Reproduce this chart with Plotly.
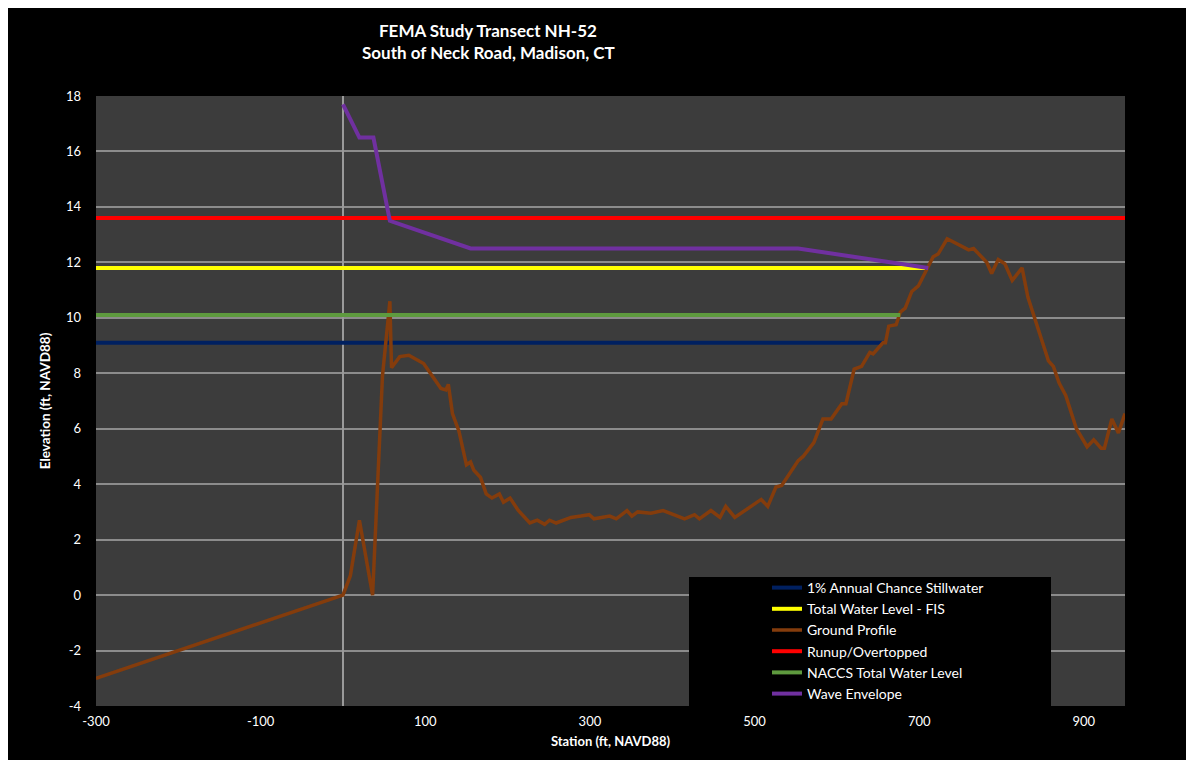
import plotly.graph_objects as go

# ---------------- data ----------------
ground_x = [-300, 0, 9, 20, 36, 48, 57, 59, 69, 80, 98, 119, 125, 128, 133, 141, 150, 155, 159, 167,
            174, 181, 190, 195, 203, 213, 227, 236, 245, 251, 259, 277, 289, 299, 305, 324, 332, 345,
            351, 358, 374, 389, 415, 427, 433, 447, 458, 465, 476, 508, 516, 526, 533, 553, 559, 572,
            583, 593, 606, 611, 621, 630, 640, 644, 656, 659, 663, 672, 677, 683, 691, 699, 711, 717,
            723, 734, 760, 766, 782, 788, 796, 804, 813, 825, 832, 841, 847, 857, 863, 870, 878, 891,
            904, 912, 921, 925, 934, 942, 950]
ground_y = [-3.0, 0.0, 0.7, 2.7, 0.0, 7.9, 10.6, 8.2, 8.6, 8.65, 8.35, 7.45, 7.4, 7.6, 6.55, 5.9, 4.7,
            4.8, 4.5, 4.25, 3.65, 3.5, 3.65, 3.35, 3.5, 3.05, 2.6, 2.7, 2.55, 2.7, 2.6, 2.8, 2.85, 2.9,
            2.75, 2.85, 2.75, 3.05, 2.85, 3.0, 2.95, 3.05, 2.75, 2.9, 2.75, 3.05, 2.8, 3.2, 2.8, 3.45,
            3.2, 3.9, 3.95, 4.85, 5.0, 5.5, 6.35, 6.35, 6.9, 6.9, 8.15, 8.25, 8.75, 8.7, 9.1, 9.1, 9.7,
            9.75, 10.2, 10.35, 10.95, 11.15, 11.85, 12.2, 12.3, 12.85, 12.45, 12.5, 12.0, 11.6, 12.1,
            11.95, 11.35, 11.8, 10.75, 9.9, 9.4, 8.45, 8.25, 7.65, 7.2, 6.0, 5.35, 5.6, 5.3, 5.3, 6.35,
            5.85, 6.55]

wave_x = [0, 20, 37, 57, 155, 553, 711]
wave_y = [17.7, 16.5, 16.5, 13.5, 12.5, 12.5, 11.8]

stillwater_x = [-300, 657]
stillwater_y = [9.1, 9.1]
fis_x = [-300, 709]
fis_y = [11.8, 11.8]
runup_x = [-300, 950]
runup_y = [13.6, 13.6]
naccs_x = [-300, 677]
naccs_y = [10.1, 10.1]

x_ticks = [-300, -100, 100, 300, 500, 700, 900]
x_tick_labels = ["-300", "-100", "100", "300", "500", "700", "900"]
y_ticks = [-4, -2, 0, 2, 4, 6, 8, 10, 12, 14, 16, 18]
y_tick_labels = ["-4", "-2", "0", "2", "4", "6", "8", "10", "12", "14", "16", "18"]

title_lines = ["FEMA Study Transect NH-52", "South of Neck Road, Madison, CT"]

FONT = "Lato, 'Open Sans', sans-serif"

# plot area in page pixels: left 96, right 1125, top 96, bottom 706
PW, PH = 1029.0, 610.0


def px_x(p):
    return (p - 96) / PW


def px_y(p):
    return (706 - p) / PH


fig = go.Figure()
fig.add_trace(go.Scatter(x=stillwater_x, y=stillwater_y, mode="lines",
                         name="1% Annual Chance Stillwater",
                         line=dict(color="#002060", width=4)))
fig.add_trace(go.Scatter(x=fis_x, y=fis_y, mode="lines",
                         name="Total Water Level - FIS",
                         line=dict(color="#FFFF00", width=4)))
fig.add_trace(go.Scatter(x=ground_x, y=ground_y, mode="lines",
                         name="Ground Profile",
                         line=dict(color="#843C0C", width=3.5)))
fig.add_trace(go.Scatter(x=runup_x, y=runup_y, mode="lines",
                         name="Runup/Overtopped",
                         line=dict(color="#FF0000", width=4)))
fig.add_trace(go.Scatter(x=naccs_x, y=naccs_y, mode="lines",
                         name="NACCS Total Water Level",
                         line=dict(color="#5E9A3E", width=4)))
fig.add_trace(go.Scatter(x=wave_x, y=wave_y, mode="lines",
                         name="Wave Envelope",
                         line=dict(color="#7030A0", width=4)))

# black legend box (Excel-style)
fig.add_shape(type="rect", xref="paper", yref="paper",
              x0=px_x(689), x1=px_x(1051), y0=0, y1=px_y(577),
              fillcolor="black", line=dict(width=0), layer="above")

# two-line chart title
for txt, yc in zip(title_lines, [30, 52]):
    fig.add_annotation(text="<b>%s</b>" % txt, xref="paper", yref="paper",
                       x=px_x(488), y=px_y(yc), xanchor="center", yanchor="middle",
                       showarrow=False, font=dict(family=FONT, size=17, color="white"))

fig.update_layout(
    width=1186, height=752,
    paper_bgcolor="black", plot_bgcolor="#3C3C3C",
    margin=dict(l=88, r=69, t=88, b=54),
    font=dict(family=FONT, color="white", size=13),
    showlegend=True,
    legend=dict(x=px_x(767), xanchor="left",
                y=px_y(572), yanchor="top",
                bgcolor="rgba(0,0,0,0)", font=dict(family=FONT, size=14, color="white"),
                tracegroupgap=0),
    xaxis=dict(range=[-300, 950], tickvals=x_ticks, ticktext=x_tick_labels, showgrid=False,
               zeroline=True, zerolinecolor="#9A9A9A", zerolinewidth=1.5,
               showline=False, ticks="", ticklabelstandoff=6,
               tickfont=dict(family=FONT, size=13, color="white"),
               title=dict(text="<b>Station (ft, NAVD88)</b>", standoff=8,
                          font=dict(family=FONT, size=13, color="white"))),
    yaxis=dict(range=[-4, 18], tickvals=y_ticks, ticktext=y_tick_labels, showgrid=True,
               gridcolor="#8C8C8C", gridwidth=1.5,
               zeroline=True, zerolinecolor="#8C8C8C", zerolinewidth=1.5,
               showline=False, ticks="", ticklabelstandoff=14,
               tickfont=dict(family=FONT, size=13, color="white"),
               title=dict(text="<b>Elevation (ft, NAVD88)</b>", standoff=12,
                          font=dict(family=FONT, size=13.5, color="white"))),
)

fig.write_html("out.html")
